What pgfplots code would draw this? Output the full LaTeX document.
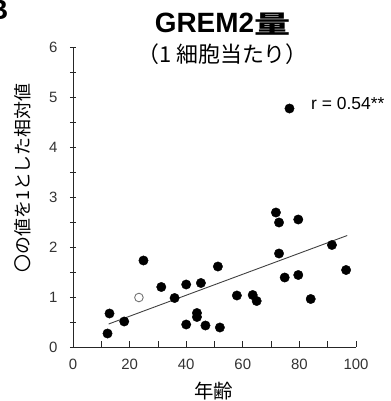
\documentclass[border=0pt]{standalone}
\usepackage{fontspec}
\setmainfont{Liberation Sans}
\newfontfamily\cjk{Noto Sans CJK JP}
\usepackage{pgfplots}
\pgfplotsset{compat=1.18}
\begin{document}
\begin{tikzpicture}[x=1bp,y=1bp]
\useasboundingbox (-73,-54) rectangle (318,347);
\begin{axis}[at={(0,0)}, anchor=origin, scale only axis,
  width=283bp, height=300bp,
  xmin=0, xmax=100, ymin=0, ymax=6,
  axis x line*=bottom, axis y line*=left,
  axis line style={-, black!85, line width=0.8pt},
  xtick={0,20,...,100}, minor xtick={10,30,...,90},
  ytick={0,1,...,6}, minor ytick={0.5,1.5,...,5.5},
  xtick align=inside, ytick align=center,
  major tick length=6bp, minor tick length=6bp,
  tick style={black!85, line width=0.8pt},
  ticklabel style={font=\fontsize{15}{15}\selectfont, text=black!80},
  /pgf/number format/assume math mode=true,
  xticklabel style={yshift=-9bp},
  yticklabel style={xshift=-9bp},
  clip=false]
\addplot[only marks, mark=*, mark size=4.7bp, mark options={fill=black, draw=black}] table {
x y
12.2 0.27
12.9 0.67
18.1 0.51
24.9 1.73
31.2 1.20
35.9 0.98
40.0 1.25
40.0 0.45
43.8 0.68
43.8 0.60
45.2 1.28
46.8 0.43
51.2 1.61
51.9 0.39
57.9 1.03
63.5 1.04
64.9 0.92
71.7 2.69
72.8 2.49
72.8 1.87
74.8 1.39
76.5 4.77
79.6 2.55
79.6 1.44
84.0 0.96
91.5 2.04
96.5 1.54
};
\addplot[only marks, mark=*, mark size=4.3bp, mark options={fill=white, draw=black!55, line width=0.9pt}] coordinates {(23.3,0.99)};
\addplot[no marks, black!75, line width=0.9pt] coordinates {(12.6,0.46) (96.9,2.23)};
\end{axis}
\node[font=\bfseries\fontsize{28}{28}\selectfont, inner sep=0] at (149.5,323) {GREM2\raisebox{-0.5bp}{\scalebox{1.45}[1]{\cjk\fontsize{25}{25}\selectfont 量}}};
\node[font=\cjk\fontsize{22}{22}\selectfont, inner sep=0] at (149.5,293) {（1\hspace{5bp}細胞当たり）};
\node[font=\fontsize{17.5}{17.5}\selectfont, anchor=west, inner sep=0] at (238,244) {r = 0.54**};
\node[font=\cjk\fontsize{19.5}{19.5}\selectfont, inner sep=0] at (140.5,-44.5) {年齢};
\node[font=\cjk\fontsize{18}{18}\selectfont, inner sep=0, rotate=90] at (-50,169) {〇の値を1とした相対値};
\node[font=\bfseries\fontsize{28}{28}\selectfont, inner sep=0, anchor=east] at (-64.5,337) {B};
\end{tikzpicture}
\end{document}
